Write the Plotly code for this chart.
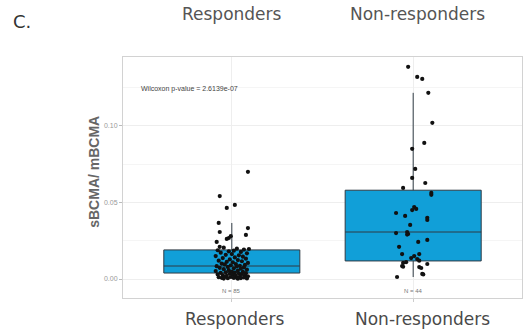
import plotly.graph_objects as go

# Groups and per-patient sBCMA/mBCMA ratios
groups = ["Responders", "Non-responders"]
group_pos = [1, 2]

responders = [
    0.0700, 0.0542, 0.0484, 0.0464, 0.0366, 0.0333, 0.0307, 0.0288, 0.0280, 0.0268,
    0.0262, 0.0242, 0.0210, 0.0196,
    0.0205, 0.0198, 0.0192, 0.0188, 0.0185, 0.0181, 0.0177, 0.0172, 0.0168, 0.0163,
    0.0158, 0.0155, 0.0150, 0.0146, 0.0141, 0.0137, 0.0133, 0.0128, 0.0124, 0.0120,
    0.0116, 0.0112, 0.0109, 0.0105, 0.0101, 0.0098, 0.0095, 0.0092, 0.0089, 0.0086,
    0.0084, 0.0082, 0.0079, 0.0076, 0.0073, 0.0070, 0.0067, 0.0064, 0.0061, 0.0058,
    0.0055, 0.0052, 0.0049, 0.0047, 0.0044, 0.0042, 0.0040, 0.0038, 0.0036, 0.0034,
    0.0032, 0.0030, 0.0028, 0.0026, 0.0024, 0.0022, 0.0020, 0.0018, 0.0016, 0.0015,
    0.0013, 0.0012, 0.0010, 0.0009, 0.0008, 0.0007, 0.0006, 0.0005, 0.0004, 0.0003,
    0.0002,
]
non_responders = [
    0.1386, 0.1320, 0.1307, 0.1216, 0.1020, 0.0889, 0.0850, 0.0719, 0.0660, 0.0627,
    0.0595, 0.0562, 0.0550, 0.0470, 0.0458, 0.0450, 0.0431, 0.0412, 0.0400, 0.0386,
    0.0353, 0.0307, 0.0290, 0.0294, 0.0300, 0.0242, 0.0255, 0.0210, 0.0163, 0.0163,
    0.0150, 0.0137, 0.0130, 0.0120, 0.0110, 0.0105, 0.0098, 0.0085, 0.0080, 0.0078,
    0.0072, 0.0033, 0.0030, 0.0013,
]

# Horizontal jitter of each point (in 1/180 of a category step)
responders_jitter = [
    16, -12, 3, -5, -13, 16, -12, 14, -1, -3, -5, -15, -12, 17,
    -8, 5, 12, -14, 2, -3, 9, -11, 15, 0, -6, 7, -16, 11, 3, -9, 14, -2, 6, -13,
    10, -5, 1, 16, -10, 4, -7, 13, -1, 8, -15, 5, -4, 12, -12, 2, 9, -8, 15, -3,
    6, -16, 0, 11, -6, 3, -11, 14, 7, -2, 10, -14, 1, -9, 13, 4, -5, 16, -7, 8,
    -1, -13, 12, 5, -10, 2, 9, -4, 15, -8, 6,
]
non_responders_jitter = [
    -5, 4, 9, 15, 19, 11, -1, 2, -1, 12, -10, 18, 18, 1, 3, -1, -17, -8, 14, 14,
    -3, -6, -6, -5, -17, 5, 14, -14, -11, 6, 1, -2, 4, 6, -7, -10, 14, -11, -10, 6,
    8, 9, 10, -16,
]

# Box statistics (q1, median, q3, whisker ends)
q1 = [0.0039, 0.0118]
median = [0.0085, 0.0307]
q3 = [0.0190, 0.0580]
lower_fence = [0.0002, 0.0013]
upper_fence = [0.0366, 0.1216]
counts = [85, 44]

y_ticks = [0.00, 0.05, 0.10]
y_tick_text = ["0.00", "0.05", "0.10"]
p_value_text = "Wilcoxon p-value = 2.6139e-07"

BOX_FILL = "#119FD8"
GRID = "#EEEEEE"
TXT = "#555555"

fig = go.Figure()

fig.add_trace(go.Box(
    x=group_pos, q1=q1, median=median, q3=q3,
    lowerfence=lower_fence, upperfence=upper_fence,
    width=0.75, whiskerwidth=0, boxpoints=False,
    fillcolor=BOX_FILL, line=dict(color="#2f3a44", width=1),
    hoverinfo="skip", showlegend=False,
))

for pos, vals, jit in [(1, responders, responders_jitter),
                       (2, non_responders, non_responders_jitter)]:
    fig.add_trace(go.Scatter(
        x=[pos + j / 180 for j in jit], y=vals, mode="markers",
        marker=dict(color="#111111", size=4.2),
        showlegend=False, hoverinfo="skip",
    ))

annotations = []
# group names above and below the panel
for pos, name, top_shift, bottom_shift in zip(group_pos, groups, [0, 4], [3, 9]):
    annotations.append(dict(x=pos, y=1, xref="x", yref="paper", yshift=55,
                            xshift=top_shift, text=name, showarrow=False,
                            font=dict(family="DejaVu Sans", size=17, color=TXT)))
    annotations.append(dict(x=pos, y=0, xref="x", yref="paper", yshift=-33,
                            xshift=bottom_shift, text=name, showarrow=False,
                            font=dict(family="DejaVu Sans", size=17, color="#4a4a4a")))
# sample sizes under each box
for pos, n in zip(group_pos, counts):
    annotations.append(dict(x=pos, y=-0.0075, xref="x", yref="y",
                            text=f"N = {n}", showarrow=False,
                            font=dict(family="Liberation Sans", size=6, color="#777777")))
# test result
annotations.append(dict(x=0.49, y=0.124, xref="x", yref="y", xanchor="left",
                        text=p_value_text, showarrow=False,
                        font=dict(family="Liberation Sans", size=7, color="#444444")))
# panel letter
annotations.append(dict(x=-0.252, y=1, xref="paper", yref="paper", yshift=48,
                        xanchor="center", text="C.", showarrow=False,
                        font=dict(family="DejaVu Sans", size=18, color="#333333")))
# y-axis title
annotations.append(dict(x=-0.097, y=0.525, xref="paper", yref="paper",
                        text="<b>sBCMA/ mBCMA</b>", textangle=-90, showarrow=False,
                        font=dict(family="Liberation Sans", size=14, color="#666666")))

fig.update_layout(
    width=525, height=330,
    margin=dict(l=123, r=3, t=57, b=32),
    paper_bgcolor="white", plot_bgcolor="white",
    font=dict(family="Liberation Sans"),
    annotations=annotations,
    xaxis=dict(range=[0.4, 2.6], tickvals=group_pos, showticklabels=False,
               ticks="outside", ticklen=3, tickcolor="#cccccc",
               showgrid=True, gridcolor=GRID, gridwidth=0.7,
               showline=True, linecolor="#d2d2d2", linewidth=1, mirror=True,
               zeroline=False),
    yaxis=dict(range=[-0.0124, 0.145], tickvals=y_ticks, ticktext=y_tick_text,
               ticks="outside", ticklen=3, tickcolor="#bbbbbb",
               tickfont=dict(size=7, color="#999999"),
               showgrid=True, gridcolor=GRID, gridwidth=0.7,
               minor=dict(tickvals=[0.025, 0.075, 0.125], showgrid=True,
                          gridcolor="#F5F5F5", gridwidth=0.5),
               showline=True, linecolor="#d2d2d2", linewidth=1, mirror=True,
               zeroline=False),
)

fig.write_html("out.html")
